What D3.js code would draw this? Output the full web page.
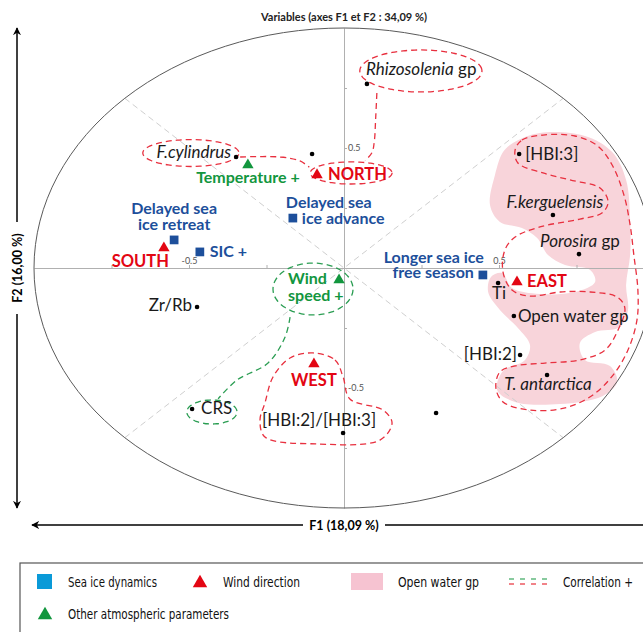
<!DOCTYPE html>
<html><head><meta charset="utf-8">
<script src="https://cdn.jsdelivr.net/npm/d3@7"></script>
<style>
body{margin:0;background:#fff;}
svg{display:block;}
</style></head><body>
<script>
// ---------------- DATA (F1, F2 coordinates) ----------------
const proxyNames = ["Rhizosolenia gp","F.cylindrus","","[HBI:3]","F.kerguelensis","Porosira gp","Ti","Open water gp","[HBI:2]","T. antarctica","Zr/Rb","CRS","[HBI:2]/[HBI:3]","_"];
const proxyF1 = [0.074,-0.348,-0.103,0.565,0.674,0.758,0.497,0.548,0.568,0.655,-0.474,-0.490,-0.003,0.297];
const proxyF2 = [0.767,0.4625,0.475,0.475,0.221,0.058,-0.0625,-0.200,-0.3625,-0.446,-0.1625,-0.5875,-0.6875,-0.604];

const seaIceNames = ["Delayed sea ice advance","Delayed sea ice retreat","SIC +","Longer sea ice free season"];
const seaIceF1 = [-0.165,-0.548,-0.465,0.448];
const seaIceF2 = [0.208,0.117,0.067,-0.029];

const windNames = ["NORTH","SOUTH","EAST","WEST"];
const windF1 = [-0.087,-0.581,0.558,-0.097];
const windF2 = [0.392,0.0875,-0.054,-0.396];

const atmoNames = ["Temperature +","Wind speed +"];
const atmoF1 = [-0.310,-0.016];
const atmoF2 = [0.433,-0.046];

const tickValues = [-0.75,-0.5,-0.25,0.25,0.5,0.75];
const tickLabels = {"-0.5":"-0.5","0.5":"0.5"};

// correlation outlines (F1,F2)
const openWaterArea = [[0.545,0.521],[0.632,0.5625],[0.777,0.55],[0.865,0.483],[0.910,0.367],[0.923,0.2],[0.923,0.054],[0.910,-0.071],[0.916,-0.175],[0.890,-0.246],[0.810,-0.267],[0.761,-0.3125],[0.777,-0.383],[0.858,-0.408],[0.881,-0.475],[0.835,-0.533],[0.697,-0.567],[0.552,-0.558],[0.494,-0.508],[0.513,-0.429],[0.584,-0.383],[0.6,-0.321],[0.561,-0.25],[0.503,-0.175],[0.465,-0.1],[0.474,-0.0375],[0.510,-0.021],[0.542,-0.083],[0.632,-0.108],[0.745,-0.1],[0.81,-0.058],[0.794,-0.008],[0.713,0.0125],[0.658,0.054],[0.623,0.125],[0.574,0.167],[0.503,0.192],[0.471,0.2625],[0.487,0.3875],[0.513,0.483]];
const eastCorrelation = [[0.552,0.492],[0.574,0.533],[0.642,0.554],[0.745,0.55],[0.819,0.508],[0.865,0.429],[0.903,0.304],[0.923,0.179],[0.935,0.054],[0.948,-0.092],[0.945,-0.217],[0.916,-0.342],[0.868,-0.446],[0.803,-0.529],[0.713,-0.583],[0.6,-0.592],[0.513,-0.558],[0.49,-0.5],[0.503,-0.433],[0.552,-0.408],[0.648,-0.396],[0.761,-0.383],[0.842,-0.342],[0.884,-0.258],[0.906,-0.167],[0.881,-0.121],[0.794,-0.1],[0.697,-0.1],[0.6,-0.117],[0.542,-0.092],[0.513,-0.017],[0.519,0.075],[0.552,0.129],[0.632,0.171],[0.761,0.204],[0.832,0.229],[0.852,0.275],[0.826,0.333],[0.729,0.367],[0.642,0.396],[0.561,0.4375]];
const westCorrelation = [[-0.1,-0.354],[-0.029,-0.383],[-0.003,-0.454],[0.019,-0.546],[0.126,-0.592],[0.155,-0.646],[0.116,-0.717],[-0.087,-0.733],[-0.255,-0.704],[-0.271,-0.633],[-0.255,-0.5625],[-0.229,-0.454],[-0.174,-0.375]];
const northLinks = [
  [[0.106,0.729],[0.102,0.62],[0.098,0.53],[0.09,0.48],[0.068,0.448]],
  [[-0.335,0.4625],[-0.206,0.4625],[-0.142,0.446],[-0.112,0.42]]
];
const windLink = [[-0.174,-0.205],[-0.190,-0.2875],[-0.245,-0.396],[-0.345,-0.4667],[-0.406,-0.545]];
const redEllipses = [ {c:[0.248,0.821], r:[0.197,0.0875]}, {c:[-0.494,0.479], r:[0.155,0.056]}, {c:[0.023,0.396], r:[0.132,0.046]} ];
const greenEllipses = [ {c:[-0.1,-0.0875], r:[0.129,0.108]}, {c:[-0.426,-0.6], r:[0.081,0.05]} ];

const legendItems = ["Sea ice dynamics","Wind direction","Open water gp","Correlation +","Other atmospheric parameters"];

// ---------------- LAYOUT ----------------
const W=643,H=632;
const colBlue="#1d4f9b", colRed="#e30613", colGreen="#12963e", colPink="#f8d4da";
const x = d3.scaleLinear().domain([-1,1]).range([34,654]);
const y = d3.scaleLinear().domain([-1,1]).range([508,28]);

const labelLayout = {
 "Rhizosolenia gp":[{t:[["Rhizosolenia",1],[" gp",0]],a:"start",dx:-1,dy:-9}],
 "F.cylindrus":[{t:[["F.cylindrus",1]],a:"end",dx:-5,dy:1}],
 "[HBI:3]":[{t:[["[HBI:3]",0]],a:"start",dx:6,dy:6}],
 "F.kerguelensis":[{t:[["F.kerguelensis",1]],a:"middle",dx:2,dy:-7}],
 "Porosira gp":[{t:[["Porosira",1],[" gp",0]],a:"middle",dx:1,dy:-7}],
 "Ti":[{t:[["Ti",0]],a:"middle",dx:1,dy:16}],
 "Open water gp":[{t:[["Open water gp",0]],a:"start",dx:4,dy:6}],
 "[HBI:2]":[{t:[["[HBI:2]",0]],a:"end",dx:-3,dy:5}],
 "T. antarctica":[{t:[["T. antarctica",1]],a:"middle",dx:1,dy:15}],
 "Zr/Rb":[{t:[["Zr/Rb",0]],a:"end",dx:-5,dy:4}],
 "CRS":[{t:[["CRS",0]],a:"start",dx:9,dy:5}],
 "[HBI:2]/[HBI:3]":[{t:[["[HBI:2]/[HBI:3]",0]],a:"middle",dx:-24,dy:-7}],
 "Delayed sea ice advance":[{t:"Delayed sea",a:"start",dx:-7,dy:-10},{t:"ice advance",a:"start",dx:9,dy:6}],
 "Delayed sea ice retreat":[{t:"Delayed sea",a:"middle",dx:0,dy:-26},{t:"ice retreat",a:"middle",dx:0,dy:-10}],
 "SIC +":[{t:"SIC +",a:"start",dx:10,dy:5}],
 "Longer sea ice free season":[{t:"Longer sea ice",a:"end",dx:1,dy:-12},{t:"free season",a:"end",dx:-9,dy:3}],
 "NORTH":[{t:"NORTH",a:"start",dx:11,dy:6}],
 "SOUTH":[{t:"SOUTH",a:"end",dx:5,dy:20}],
 "EAST":[{t:"EAST",a:"start",dx:10,dy:6}],
 "WEST":[{t:"WEST",a:"middle",dx:0,dy:23}],
 "Temperature +":[{t:"Temperature +",a:"middle",dx:0,dy:19}],
 "Wind speed +":[{t:"Wind",a:"start",dx:-51,dy:5},{t:"speed +",a:"start",dx:-51,dy:22}]
};

const svg = d3.select("body").append("svg").attr("width",W).attr("height",H)
  .style("font-family","Lato, 'Open Sans', sans-serif");

// pink open-water area
const closed = d3.line().x(d=>x(d[0])).y(d=>y(d[1])).curve(d3.curveCatmullRomClosed.alpha(0.5));
const open = d3.line().x(d=>x(d[0])).y(d=>y(d[1])).curve(d3.curveCatmullRom.alpha(0.5));
svg.append("path").attr("d",closed(openWaterArea)).attr("fill",colPink);

// diagonals
const c45 = Math.SQRT1_2;
[[[-c45,-c45],[c45,c45]],[[-c45,c45],[c45,-c45]]].forEach(seg=>{
  svg.append("line").attr("x1",x(seg[0][0])).attr("y1",y(seg[0][1])).attr("x2",x(seg[1][0])).attr("y2",y(seg[1][1]))
    .attr("stroke","#cfcfcf").attr("stroke-width",1).attr("stroke-dasharray","6,4");
});

// axes
const gx = svg.append("g").attr("transform",`translate(0,${y(0)})`)
  .call(d3.axisTop(x).tickValues(tickValues).tickSize(3).tickSizeOuter(0).tickPadding(1).tickFormat(d=>tickLabels[String(d)]||""));
const gy = svg.append("g").attr("transform",`translate(${x(0)},0)`)
  .call(d3.axisRight(y).tickValues(tickValues).tickSize(3).tickSizeOuter(0).tickPadding(1).tickFormat(d=>tickLabels[String(d)]||""));
[gx,gy].forEach(g=>{
  g.select(".domain").attr("stroke","#b0b0b0");
  g.selectAll(".tick line").attr("stroke","#b0b0b0");
  g.selectAll(".tick text").attr("fill","#555").style("font-size","9px").style("font-family","Lato, sans-serif");
});

// circle of correlations
svg.append("ellipse").attr("cx",x(0)).attr("cy",y(0)).attr("rx",x(1)-x(0)).attr("ry",y(0)-y(1))
  .attr("fill","none").attr("stroke","#5a5a5a").attr("stroke-width",1);

// dashed correlation outlines
function ellPts(e){ return d3.range(0,64).map(i=>{const t=i/64*2*Math.PI; return [e.c[0]+e.r[0]*Math.cos(t), e.c[1]+e.r[1]*Math.sin(t)];}); }
const dashRed = sel=>sel.attr("fill","none").attr("stroke","#e8303f").attr("stroke-width",1.3).attr("stroke-dasharray","6,4");
const dashGreen = sel=>sel.attr("fill","none").attr("stroke","#2a9d52").attr("stroke-width",1.3).attr("stroke-dasharray","6,4");
svg.append("path").attr("d",closed(eastCorrelation)).call(dashRed);
svg.append("path").attr("d",closed(westCorrelation)).call(dashRed);
northLinks.forEach(l=>svg.append("path").attr("d",open(l)).call(dashRed));
redEllipses.forEach(e=>svg.append("path").attr("d",closed(ellPts(e))).call(dashRed));
greenEllipses.forEach(e=>svg.append("path").attr("d",closed(ellPts(e))).call(dashGreen));
svg.append("path").attr("d",open(windLink)).call(dashGreen);

// marks
const proxies = proxyNames.map((n,i)=>({n,f1:proxyF1[i],f2:proxyF2[i]}));
svg.selectAll("circle.p").data(proxies).join("circle").attr("class","p")
  .attr("cx",d=>x(d.f1)).attr("cy",d=>y(d.f2)).attr("r",2.3).attr("fill","#000");
const sq = d3.symbol(d3.symbolSquare,76), tri = d3.symbol(d3.symbolTriangle,56);
const seaIce = seaIceNames.map((n,i)=>({n,f1:seaIceF1[i],f2:seaIceF2[i]}));
svg.selectAll("path.s").data(seaIce).join("path").attr("class","s").attr("d",sq)
  .attr("transform",d=>`translate(${x(d.f1)},${y(d.f2)})`).attr("fill",colBlue);
const wind = windNames.map((n,i)=>({n,f1:windF1[i],f2:windF2[i]}));
svg.selectAll("path.w").data(wind).join("path").attr("class","w").attr("d",tri)
  .attr("transform",d=>`translate(${x(d.f1)},${y(d.f2)+1})`).attr("fill",colRed);
const atmo = atmoNames.map((n,i)=>({n,f1:atmoF1[i],f2:atmoF2[i]}));
svg.selectAll("path.a").data(atmo).join("path").attr("class","a").attr("d",tri)
  .attr("transform",d=>`translate(${x(d.f1)},${y(d.f2)+1})`).attr("fill",colGreen);

// labels
function addLabels(items, color, weight, size){
  items.forEach(d=>{
    const lay = labelLayout[d.n]; if(!lay) return;
    lay.forEach(l=>{
      const t = svg.append("text").attr("x",x(d.f1)+l.dx).attr("y",y(d.f2)+l.dy)
        .attr("text-anchor",l.a).attr("fill",color).style("font-weight",weight).style("font-size",size+"px");
      if(typeof l.t==="string") t.text(l.t);
      else l.t.forEach(s=>t.append("tspan").text(s[0]).style("font-style",s[1]?"italic":"normal"));
    });
  });
}
addLabels(proxies,"#1a1a1a","normal",17);
addLabels(seaIce,colBlue,"bold",16);
addLabels(wind,colRed,"bold",16.5);
addLabels(atmo,colGreen,"bold",16);

// title
svg.append("text").attr("x",x(0)).attr("y",21).attr("text-anchor","middle")
  .style("font-weight","bold").style("font-size","11px").attr("fill","#222")
  .text("Variables (axes F1 et F2 : 34,09 %)");

// axis arrows
svg.append("defs").append("marker").attr("id","arr").attr("viewBox","0 0 10 10").attr("refX",9).attr("refY",5)
  .attr("markerWidth",8).attr("markerHeight",8).attr("orient","auto-start-reverse").attr("markerUnits","userSpaceOnUse")
  .append("path").attr("d","M0,0 L10,5 L0,10 L3,5 Z").attr("fill","#000");
const f2y = (y(1)+y(-1))/2;
svg.append("line").attr("x1",17).attr("x2",17).attr("y1",y(1)).attr("y2",f2y-46).attr("stroke","#000").attr("stroke-width",1.5).attr("marker-start","url(#arr)");
svg.append("line").attr("x1",17).attr("x2",17).attr("y1",f2y+46).attr("y2",y(-1)).attr("stroke","#000").attr("stroke-width",1.5).attr("marker-end","url(#arr)");
svg.append("text").attr("transform",`translate(21.5,${f2y}) rotate(-90)`).attr("text-anchor","middle")
  .style("font-weight","bold").style("font-size","12.5px").text("F2 (16,00 %)");
svg.append("line").attr("x1",32).attr("x2",x(0)-41).attr("y1",525).attr("y2",525).attr("stroke","#000").attr("stroke-width",1.5).attr("marker-start","url(#arr)");
svg.append("line").attr("x1",x(0)+41).attr("x2",660).attr("y1",525).attr("y2",525).attr("stroke","#000").attr("stroke-width",1.5);
svg.append("text").attr("x",x(0)).attr("y",529.5).attr("text-anchor","middle")
  .style("font-weight","bold").style("font-size","12.5px").text("F1 (18,09 %)");

// legend
const lg = svg.append("g").style("font-family","'Liberation Sans Narrow','DejaVu Sans Condensed','Liberation Sans',sans-serif").style("font-size","14.5px");
lg.append("rect").attr("x",20).attr("y",563).attr("width",640).attr("height",100).attr("fill","none").attr("stroke","#555").attr("stroke-width",1.2);
lg.append("rect").attr("x",37).attr("y",574).attr("width",15).attr("height",15).attr("fill","#0a9ad8");
lg.append("path").attr("d",d3.symbol(d3.symbolTriangle,90)()).attr("transform","translate(200,583)").attr("fill",colRed);
lg.append("rect").attr("x",351).attr("y",573).attr("width",32).attr("height",17).attr("fill","#f6c3d1");
lg.append("line").attr("x1",509).attr("x2",551).attr("y1",579).attr("y2",579).attr("stroke",colGreen).attr("stroke-width",1.2).attr("stroke-dasharray","5,6");
lg.append("line").attr("x1",509).attr("x2",551).attr("y1",584).attr("y2",584).attr("stroke",colRed).attr("stroke-width",1.2).attr("stroke-dasharray","5,6");
lg.append("path").attr("d",d3.symbol(d3.symbolTriangle,90)()).attr("transform","translate(45,615)").attr("fill",colGreen);
const lgPos = [[68,587],[223,587],[398,587],[563,587],[68,619]];
const lgLen = [89,77,81,70,161];
legendItems.forEach((t,i)=>lg.append("text").attr("x",lgPos[i][0]).attr("y",lgPos[i][1]).attr("fill","#111")
  .attr("textLength",lgLen[i]).attr("lengthAdjust","spacingAndGlyphs").text(t));
</script>
</body></html>
